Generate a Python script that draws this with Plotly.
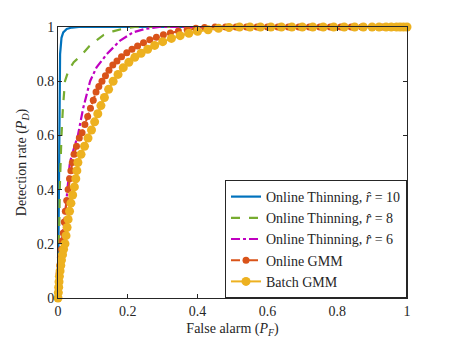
import plotly.graph_objects as go

# ROC curves
thin10_pf = [0, 0.002, 0.003, 0.004, 0.006, 0.01, 0.015, 0.025, 0.04, 0.06, 1.0]
thin10_pd = [0, 0.3, 0.6, 0.8, 0.9, 0.96, 0.98, 0.993, 0.998, 1.0, 1.0]

thin8_pf = [0, 0.002, 0.003, 0.004, 0.005, 0.007, 0.01, 0.014, 0.02, 0.03, 0.045,
            0.07, 0.09, 0.11, 0.13, 0.16, 0.19, 0.22, 1.0]
thin8_pd = [0, 0.1, 0.2, 0.3, 0.4, 0.5, 0.6, 0.7, 0.8, 0.84, 0.87,
            0.9, 0.93, 0.95, 0.97, 0.985, 0.995, 1.0, 1.0]

thin6_pf = [0, 0.005, 0.01, 0.02, 0.028, 0.034, 0.045, 0.057, 0.072, 0.092, 0.11,
            0.14, 0.178, 0.215, 0.25, 0.29, 1.0]
thin6_pd = [0, 0.1, 0.2, 0.3, 0.4, 0.5, 0.55, 0.6, 0.7, 0.8, 0.85,
            0.9, 0.95, 0.98, 0.993, 1.0, 1.0]

ogmm_pf = [0, 0.001, 0.002, 0.003, 0.005, 0.007, 0.01, 0.012, 0.015, 0.018, 0.021,
           0.025, 0.029, 0.033, 0.037, 0.041, 0.046, 0.053, 0.061, 0.069, 0.077,
           0.085, 0.093, 0.101, 0.109, 0.117, 0.126, 0.136, 0.146, 0.157, 0.169,
           0.182, 0.197, 0.212, 0.228, 0.245, 0.263, 0.282, 0.302, 0.322, 0.345,
           0.37, 0.395, 0.42, 0.45, 0.48, 0.51, 0.54, 0.57, 0.6, 0.63, 0.66, 0.69,
           0.72, 0.75, 0.78, 0.81, 0.84, 0.87, 0.9, 0.93, 0.96, 1.0]
ogmm_pd = [0, 0.03, 0.06, 0.09, 0.12, 0.15, 0.18, 0.21, 0.24, 0.28, 0.32,
           0.36, 0.4, 0.44, 0.47, 0.5, 0.53, 0.56, 0.59, 0.61, 0.64,
           0.67, 0.7, 0.73, 0.76, 0.78, 0.8, 0.82, 0.84, 0.86, 0.875,
           0.89, 0.905, 0.918, 0.93, 0.942, 0.953, 0.962, 0.971, 0.978, 0.985,
           0.99, 0.995, 0.998, 1.0, 1.0, 1.0, 1.0, 1.0, 1.0, 1.0, 1.0, 1.0,
           1.0, 1.0, 1.0, 1.0, 1.0, 1.0, 1.0, 1.0, 1.0, 1.0]

bgmm_pf = [0, 0.001, 0.002, 0.003, 0.004, 0.006, 0.008, 0.01, 0.013, 0.016, 0.02,
           0.023, 0.026, 0.029, 0.033, 0.037, 0.042, 0.047, 0.051, 0.054, 0.057,
           0.066, 0.076, 0.086, 0.096, 0.105, 0.114, 0.123, 0.133, 0.145, 0.158,
           0.172, 0.187, 0.203, 0.22, 0.238, 0.257, 0.277, 0.3, 0.325, 0.35,
           0.375, 0.4, 0.43, 0.46, 0.49, 0.52, 0.55, 0.58, 0.61, 0.64, 0.67, 0.7,
           0.73, 0.76, 0.79, 0.82, 0.85, 0.875, 0.9, 0.92, 0.94, 0.955, 0.97,
           0.98, 0.99, 1.0]
bgmm_pd = [0, 0.02, 0.04, 0.06, 0.08, 0.1, 0.12, 0.14, 0.16, 0.18, 0.2,
           0.23, 0.26, 0.29, 0.32, 0.35, 0.38, 0.41, 0.44, 0.47, 0.5,
           0.53, 0.56, 0.59, 0.62, 0.65, 0.68, 0.71, 0.74, 0.77, 0.8,
           0.825, 0.85, 0.87, 0.888, 0.903, 0.918, 0.932, 0.946, 0.958, 0.968,
           0.977, 0.984, 0.99, 0.995, 0.998, 1.0, 1.0, 1.0, 1.0, 1.0, 1.0, 1.0,
           1.0, 1.0, 1.0, 1.0, 1.0, 1.0, 1.0, 1.0, 1.0, 1.0, 1.0,
           1.0, 1.0, 1.0]

ticks = [0, 0.2, 0.4, 0.6, 0.8, 1]
tick_text = ["0", "0.2", "0.4", "0.6", "0.8", "1"]

font = "Liberation Serif, DejaVu Serif, serif"

fig = go.Figure()
fig.add_trace(go.Scatter(x=thin10_pf, y=thin10_pd, mode="lines",
                         name="Online Thinning, <i>r̂</i> = 10",
                         line=dict(color="#0072BD", width=2.2), cliponaxis=False))
fig.add_trace(go.Scatter(x=thin8_pf, y=thin8_pd, mode="lines",
                         name="Online Thinning, <i>r̂</i> = 8",
                         line=dict(color="#77AC30", width=2.2, dash="dash"), cliponaxis=False))
fig.add_trace(go.Scatter(x=thin6_pf, y=thin6_pd, mode="lines",
                         name="Online Thinning, <i>r̂</i> = 6",
                         line=dict(color="#C000C0", width=2.2, dash="dashdot"), cliponaxis=False))
fig.add_trace(go.Scatter(x=ogmm_pf, y=ogmm_pd, mode="lines+markers", name="Online GMM",
                         line=dict(color="#D95319", width=2, dash="dash"),
                         marker=dict(size=7, color="#D95319"), cliponaxis=False))
fig.add_trace(go.Scatter(x=bgmm_pf, y=bgmm_pd, mode="lines+markers", name="Batch GMM",
                         line=dict(color="#EDB120", width=2),
                         marker=dict(size=9, color="#EDB120"), cliponaxis=False))

axis_style = dict(range=[0, 1], tickvals=ticks, ticktext=tick_text, ticks="inside",
                  ticklen=4, tickcolor="#262626", showline=True, linecolor="#262626",
                  linewidth=1, mirror="ticks", showgrid=False, zeroline=False,
                  tickfont=dict(size=14, color="#262626"))

fig.update_xaxes(title=dict(text="False alarm (<i>P<sub>F</sub></i>)",
                            font=dict(size=14, color="#262626")),
                 automargin=False, **axis_style)
fig.update_yaxes(title=dict(text="Detection rate (<i>P<sub>D</sub></i>)", standoff=6,
                            font=dict(size=14, color="#262626")),
                 automargin=True, **axis_style)

# page body adds an 8px offset, so the figure is 8px smaller and margins shifted
fig.update_layout(
    width=442, height=330,
    margin=dict(l=50, r=43, t=17, b=40),
    plot_bgcolor="white", paper_bgcolor="white",
    font=dict(family=font, color="#262626"),
    legend=dict(x=1, y=0, xanchor="right", yanchor="bottom",
                bgcolor="white", bordercolor="#262626", borderwidth=1,
                font=dict(size=14), tracegroupgap=0, itemwidth=30),
)

fig.write_html("out.html")
